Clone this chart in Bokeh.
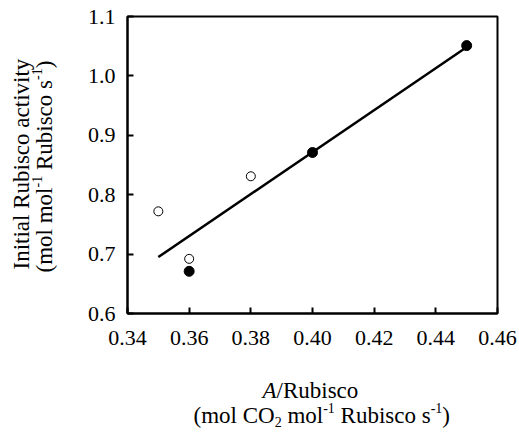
import math
from bokeh.plotting import figure
from bokeh.layouts import row, column
from bokeh.models import Label, FixedTicker, NumeralTickFormatter, Range1d
from bokeh.embed import file_html
from bokeh.resources import INLINE

# ---- data ----
open_x = [0.35, 0.36, 0.38]
open_y = [0.772, 0.692, 0.831]
filled_x = [0.36, 0.40, 0.45]
filled_y = [0.671, 0.871, 1.051]
fit_x = [0.35, 0.449]
fit_y = [0.695, 1.045]
x_ticks = [0.34, 0.36, 0.38, 0.40, 0.42, 0.44, 0.46]
y_ticks = [0.6, 0.7, 0.8, 0.9, 1.0, 1.1]

# axis titles as (text, kind) pieces: n=normal, i=italic, sup, sub
x_title_1 = [("A", "i"), ("/Rubisco", "n")]
x_title_2 = [("(mol CO", "n"), ("2", "sub"), (" mol", "n"), ("-1", "sup"),
             (" Rubisco s", "n"), ("-1", "sup"), (")", "n")]
y_title_1 = [("Initial Rubisco activity", "n")]
y_title_2 = [("(mol mol", "n"), ("-1", "sup"), (" Rubisco s", "n"), ("-1", "sup"), (")", "n")]

FONT = "Liberation Serif"
MAIN = 23
SMALL = 14
TIMES = {' ': 250, '(': 333, ')': 333, 'm': 778, 'o': 500, 'l': 278, 'R': 667, 'u': 500,
         'b': 500, 'i': 278, 's': 389, 'c': 444, 'C': 667, 'O': 722, '-': 333, '1': 500,
         '2': 500, '/': 278, 'A': 611, 'a': 444, 't': 278, 'v': 500, 'y': 500, 'I': 333,
         'n': 500}

LEFT_W = 70
MAIN_H = 372
FL, FR, FT, FB = 127, 497, 16, 313   # plot box in page pixels

# ---- main plot ----
p = figure(width=519 - LEFT_W, height=MAIN_H, output_backend="svg", toolbar_location=None,
           x_range=Range1d(0.34, 0.46), y_range=Range1d(0.6, 1.1),
           min_border_left=FL - LEFT_W, min_border_right=519 - FR, min_border_top=FT,
           min_border_bottom=MAIN_H - FB)
p.background_fill_color = "white"
p.border_fill_color = "white"
p.grid.visible = False
p.outline_line_color = "black"
p.outline_line_width = 2

for ax in (p.xaxis[0], p.yaxis[0]):
    ax.axis_line_width = 2
    ax.major_tick_in = 6
    ax.major_tick_out = 0
    ax.major_tick_line_width = 2
    ax.minor_tick_line_color = None
    ax.major_label_text_font = FONT
    ax.major_label_text_font_size = "22px"
    ax.major_label_text_color = "black"
p.xaxis.major_label_standoff = 17
p.yaxis.major_label_standoff = 12

p.xaxis.ticker = FixedTicker(ticks=x_ticks)
p.yaxis.ticker = FixedTicker(ticks=y_ticks)
p.xaxis.formatter = NumeralTickFormatter(format="0.00")
p.yaxis.formatter = NumeralTickFormatter(format="0.0")

p.line(fit_x, fit_y, line_color="black", line_width=2.5)
p.scatter(open_x, open_y, marker="circle", size=9, fill_color="white",
          line_color="black", line_width=1)
p.scatter(filled_x, filled_y, marker="circle", size=10, fill_color="black",
          line_color="black")


def strip(w, h, xr, yr, bl, br, bt, bb):
    f = figure(width=w, height=h, output_backend="svg", toolbar_location=None,
               x_range=Range1d(*xr), y_range=Range1d(*yr),
               x_axis_location=None, y_axis_location=None,
               min_border_left=bl, min_border_right=br,
               min_border_top=bt, min_border_bottom=bb)
    f.grid.visible = False
    f.outline_line_color = None
    f.background_fill_color = "white"
    f.border_fill_color = "white"
    return f


def width(text, size):
    return sum(TIMES.get(c, 500) for c in text) * size / 1000.0


def place(fig, pieces, start, base, vertical):
    pos = 0.0
    for text, kind in pieces:
        size = SMALL if kind in ("sup", "sub") else MAIN
        shift = 8 if kind == "sup" else (-6 if kind == "sub" else 0)
        lead = len(text) - len(text.lstrip(" "))
        pos += width(" " * lead, size)
        text = text.lstrip(" ")
        if vertical:
            x, y, ang = base - shift, start - pos, math.pi / 2
        else:
            x, y, ang = start + pos, base - shift, 0
        fig.add_layout(Label(x=x, y=y, text=text,
                             text_font=FONT, text_font_size=f"{size}px",
                             text_font_style="italic" if kind == "i" else "normal",
                             text_align="left", text_baseline="alphabetic",
                             text_color="black", angle=ang))
        pos += width(text, size)


# left strip: frame spans the full strip width and the plot box's height (page coords)
left = strip(LEFT_W, 432, (0, LEFT_W), (FB, FT), 0, 0, FT, 432 - FB)
place(left, y_title_1, 269, 21, True)
place(left, y_title_2, 272, 44, True)

# bottom strip: frame spans the plot box's width (page coords)
bottom = strip(519 - LEFT_W, 432 - MAIN_H, (FL, FR), (432, MAIN_H),
               FL - LEFT_W, 519 - FR, 0, 0)
place(bottom, x_title_1, 262, 390, False)
place(bottom, x_title_2, 193, 415, False)

layout = row(left, column(p, bottom, spacing=0), spacing=0)
open("out.html", "w").write(file_html(layout, INLINE))
